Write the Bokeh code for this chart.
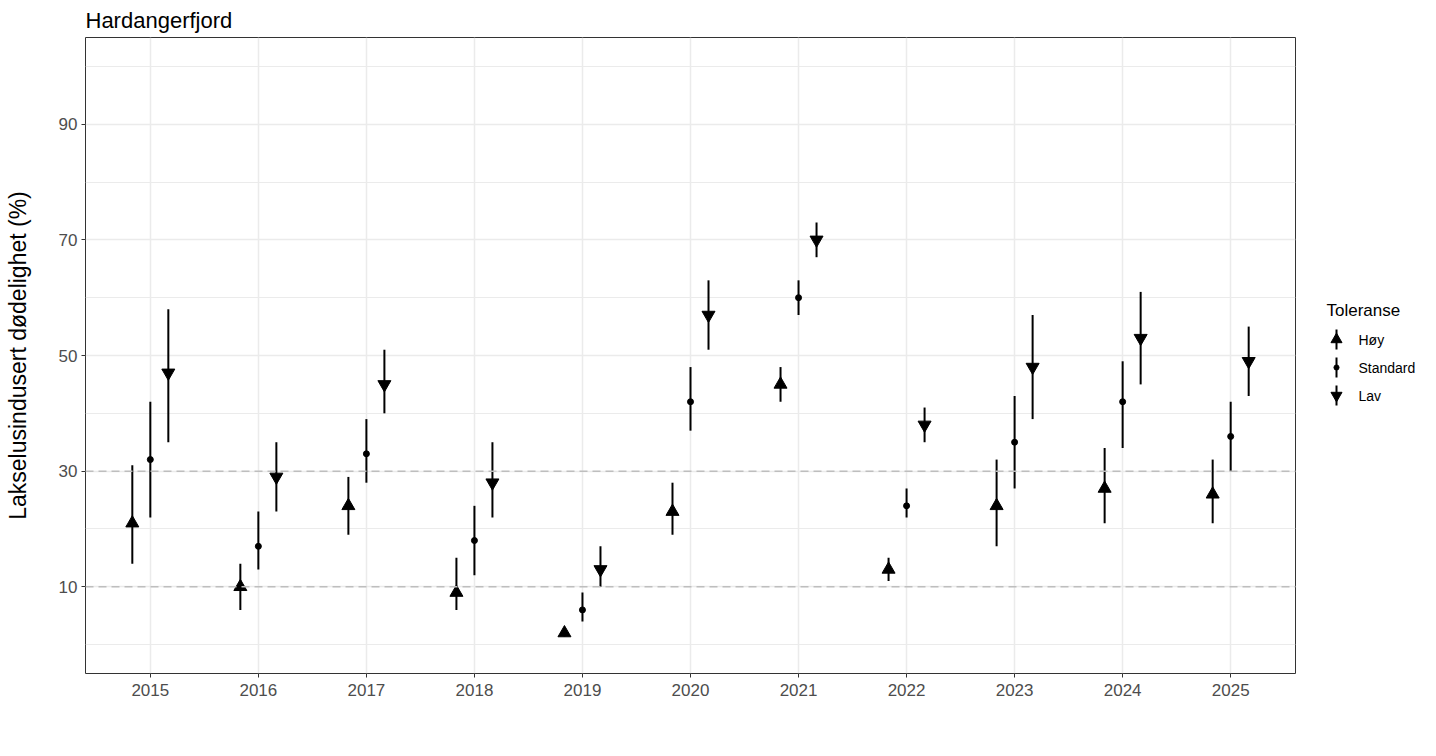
import numpy as np
from bokeh.plotting import figure
from bokeh.models import FixedTicker, Span
from bokeh.core.properties import value
from bokeh.layouts import row
from bokeh.embed import file_html
from bokeh.resources import INLINE

# data
years = [2015, 2016, 2017, 2018, 2019, 2020, 2021, 2022, 2023, 2024, 2025]
groups = ["Høy", "Standard", "Lav"]

hoy_mid = [21, 10, 24, 9, 2, 23, 45, 13, 24, 27, 26]
hoy_lo = [14, 6, 19, 6, 1.4, 19, 42, 11, 17, 21, 21]
hoy_hi = [31, 14, 29, 15, 2.6, 28, 48, 15, 32, 34, 32]

std_mid = [32, 17, 33, 18, 6, 42, 60, 24, 35, 42, 36]
std_lo = [22, 13, 28, 12, 4, 37, 57, 22, 27, 34, 30]
std_hi = [42, 23, 39, 24, 9, 48, 63, 27, 43, 49, 42]

lav_mid = [47, 29, 45, 28, 13, 57, 70, 38, 48, 53, 49]
lav_lo = [35, 23, 40, 22, 10, 51, 67, 35, 39, 45, 43]
lav_hi = [58, 35, 51, 35, 17, 63, 73, 41, 57, 61, 55]

y_ticks = [10, 30, 50, 70, 90]
y_minor = [0, 20, 40, 60, 80, 100]
ref_lines = [10, 30]

FONT = "Liberation Sans"
TXT = "#4D4D4D"
GRID = "#EBEBEB"

p = figure(width=1300, height=740, x_range=(2014.4, 2025.6), y_range=(-5, 105),
           output_backend="svg", toolbar_location=None,
           min_border_left=85, min_border_right=5, min_border_top=37, min_border_bottom=67)

p.title.text = "Hardangerfjord"
p.title.text_font = FONT
p.title.text_font_size = "22px"
p.title.text_font_style = "normal"
p.title.text_color = "black"
p.title.align = "left"
p.title.standoff = 10

p.outline_line_color = "#333333"
p.outline_line_width = 1
p.background_fill_color = "white"
p.border_fill_color = "white"

p.xaxis.ticker = FixedTicker(ticks=years)
p.xaxis.major_label_overrides = {y: str(y) for y in years}
p.yaxis.ticker = FixedTicker(ticks=y_ticks, minor_ticks=y_minor)
p.yaxis.axis_label = "Lakselusindusert dødelighet (%)"
p.yaxis.axis_label_text_font = FONT
p.yaxis.axis_label_text_font_size = "23px"
p.yaxis.axis_label_text_font_style = "normal"
p.yaxis.axis_label_text_color = "black"
p.yaxis.axis_label_standoff = 25

for ax in (p.xaxis, p.yaxis):
    ax.major_label_text_font = FONT
    ax.major_label_text_font_size = "17px"
    ax.major_label_text_color = TXT
    ax.axis_line_color = None
    ax.major_tick_line_color = "#333333"
    ax.major_tick_out = 4
    ax.major_tick_in = 0
    ax.minor_tick_out = 0
    ax.minor_tick_in = 0
p.xaxis.major_label_standoff = 6
p.yaxis.major_label_standoff = 4

p.xgrid.grid_line_color = GRID
p.xgrid.grid_line_width = 1.5
p.ygrid.grid_line_color = GRID
p.ygrid.grid_line_width = 1.5
p.ygrid.minor_grid_line_color = GRID
p.ygrid.minor_grid_line_width = 1

for v in ref_lines:
    p.add_layout(Span(location=v, dimension="width", line_color="#BEBEBE",
                      line_width=1.5, line_dash="8 5"))

yr = np.array(years, dtype=float)
styles = [(-1 / 6, "triangle", 13), (0.0, "circle", 6), (1 / 6, "inverted_triangle", 13)]
series = [(hoy_mid, hoy_lo, hoy_hi), (std_mid, std_lo, std_hi), (lav_mid, lav_lo, lav_hi)]
for (mid, lo, hi), (off, marker, size) in zip(series, styles):
    xs = yr + off
    p.segment(x0=xs, y0=lo, x1=xs, y1=hi, line_color="black", line_width=2)
    p.scatter(x=xs, y=mid, marker=marker, size=size, fill_color="black", line_color="black")

# legend drawn as its own small panel, to the right of the plot
# (the row lines its frame up with the main frame, so the range is in page pixels)
leg = figure(width=136, height=740, x_range=(0, 136), y_range=(673, 37),
             output_backend="svg", toolbar_location=None, title=None,
             x_axis_location=None, y_axis_location=None,
             min_border_left=0, min_border_right=0, min_border_top=0, min_border_bottom=0,
             outline_line_color=None)
leg.grid.visible = False
leg.text(x=[26], y=[310], text=["Toleranse"], text_font=value(FONT),
         text_font_size="17px", text_baseline="middle", text_color="black")
for i, (name, (off, marker, size)) in enumerate(zip(groups, styles)):
    gy = 339 + i * 28
    leg.segment(x0=[36], y0=[gy - 10], x1=[36], y1=[gy + 10], line_color="black", line_width=2)
    leg.scatter(x=[36], y=[gy], marker=marker, size=size * 0.85,
                fill_color="black", line_color="black")
    leg.text(x=[58], y=[gy], text=[name], text_font=value(FONT),
             text_font_size="14px", text_baseline="middle", text_color="black")

layout = row(p, leg)
open("out.html", "w").write(file_html(layout, INLINE))
